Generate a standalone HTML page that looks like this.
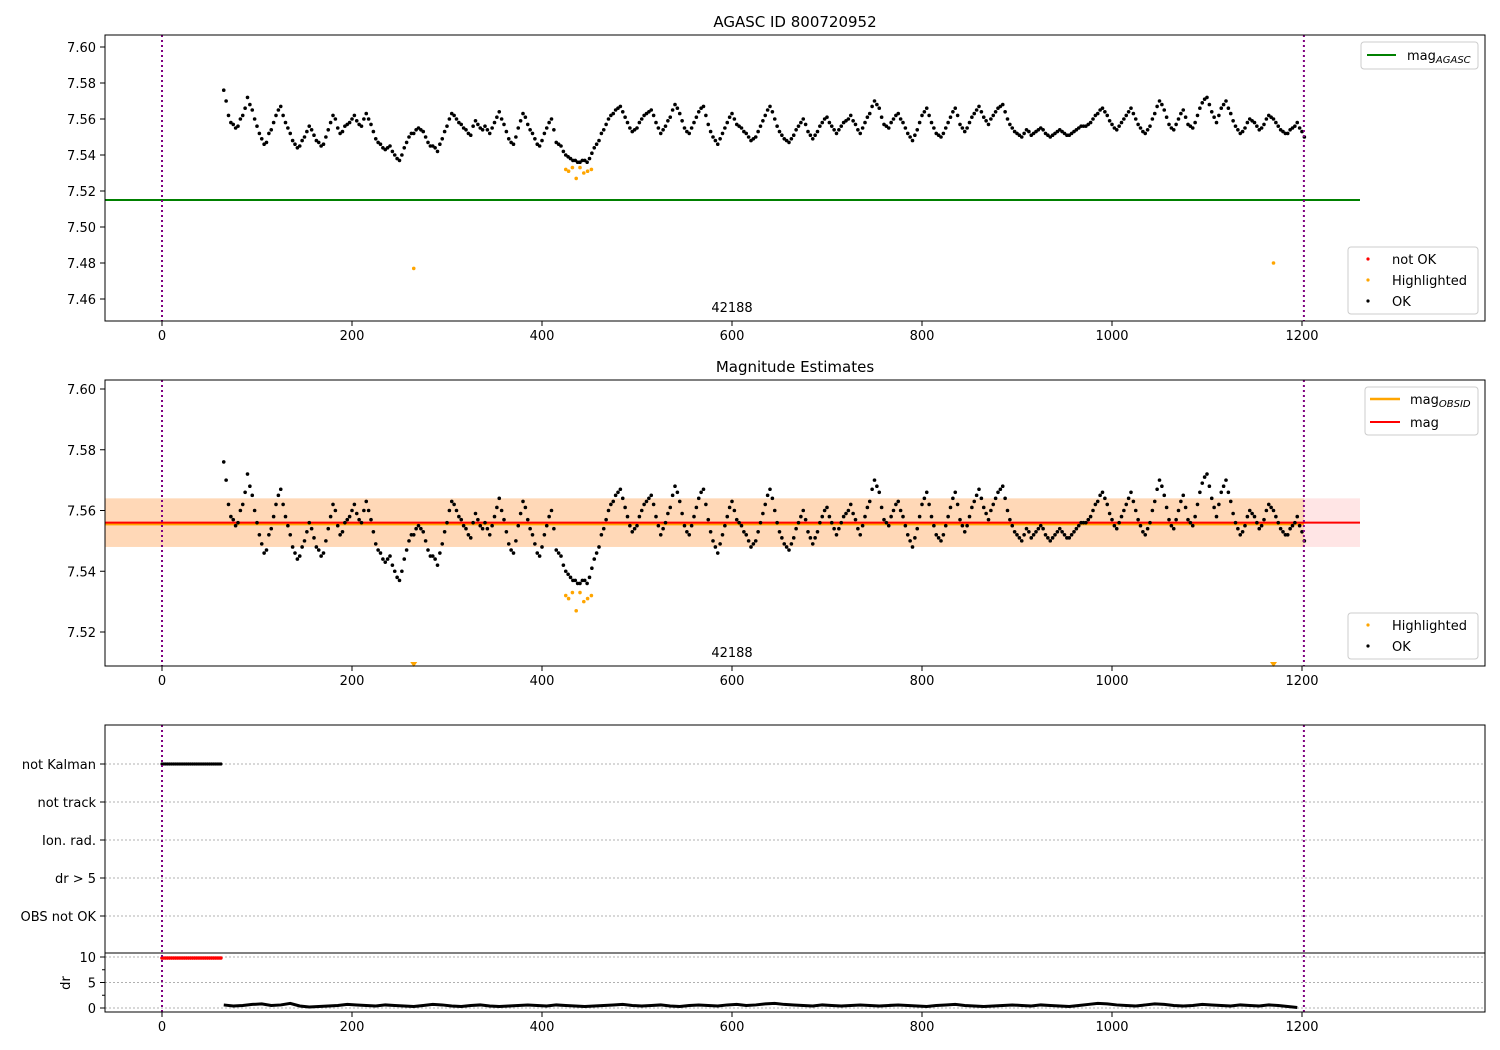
<!DOCTYPE html>
<html><head><meta charset="utf-8"><style>
html,body{margin:0;padding:0;background:#fff;}
svg{display:block;font-family:"DejaVu Sans","Liberation Sans",sans-serif;}
</style></head><body>
<svg id="c" width="1500" height="1050" viewBox="0 0 1500 1050" xmlns="http://www.w3.org/2000/svg"></svg>
<script>
const T0 = 65, TSTEP = 5;
const magMilli = [76,62,57,56,62,72,65,56,49,47, 54,62,67,58,52,46,45,50,56,51, 47,46,54,62,55,53,57,60,59,56,
 63,57,49,46,43,45,40,37,44,50, 52,55,53,47,45,42,49,56,63,60, 57,54,51,59,55,56,52,58,64,57,
 49,46,55,63,57,52,46,48,55,60, 47,45,40,38,37,36,37,38,44,48, 54,60,63,66,64,58,53,55,60,63,
 65,58,52,56,61,68,63,55,52,58, 64,67,57,50,46,52,58,63,57,55, 52,48,50,56,62,67,60,53,49,47,
 51,56,60,53,49,53,58,61,56,52, 56,59,62,57,52,58,63,70,66,57, 55,60,63,58,52,48,54,62,66,58,
 52,50,55,61,66,57,53,58,63,67, 61,57,62,66,68,60,55,52,50,54, 51,53,55,52,50,52,54,52,51,53,
 55,56,57,60,63,66,62,57,54,58, 62,66,60,55,52,56,63,70,65,57, 54,60,65,57,55,62,69,72,64,58,
 66,70,63,56,52,55,60,58,54,57, 62,60,56,53,52,55,58,53];
const T0B = 67.5;
const magMilliB = [70,58,55,60,66,68,60,52,46,52, 58,65,62,55,48,44,48,53,54,48, 45,50,58,60,52,56,58,62,57,60,
 60,53,47,44,44,42,38,40,47,52, 54,54,50,45,44,46,53,60,62,58, 55,52,56,57,54,54,55,61,60,53,
 47,50,59,61,54,49,45,52,58,54, 46,42,39,37,36,37,36,41,46,52, 57,62,65,67,61,55,54,58,62,64,
 62,55,54,59,65,66,59,53,55,61, 66,62,53,48,49,55,61,60,56,53, 50,49,53,59,65,64,56,51,48,49,
 54,58,57,51,51,56,60,58,54,54, 58,60,59,54,55,61,67,68,61,56, 58,62,60,55,50,51,58,64,62,55,
 51,52,58,64,62,55,55,61,65,64, 59,60,64,67,64,57,53,51,52,53, 52,54,54,51,51,53,53,51,52,54,
 56,56,58,62,65,64,59,55,56,60, 64,63,57,53,54,60,67,68,61,55, 57,63,61,56,58,66,71,68,61,62,
 68,66,59,54,53,58,59,56,55,60, 61,58,54,52,54,56,55,50];
const hiT = [425,428,432,436,440,444,448,452,265,1170];
const hiMag = [7.532,7.531,7.533,7.527,7.533,7.530,7.531,7.532,7.477,7.480];
const notKalmanT = [0,2,4,6,8,10,12,14,16,18,20,22,24,26,28,30,32,34,36,38,40,42,44,46,48,50,52,54,56,58,60,62];
const drNotOk = [9.8,9.8,9.8,9.8,9.8,9.8,9.8,9.8,9.8,9.8,9.8,9.8,9.8,9.8,9.8,9.8,9.8,9.8,9.8,9.8,9.8,9.8,9.8,9.8,9.8,9.8,9.8,9.8,9.8,9.8,9.8,9.8];
const DR0 = 65, DRSTEP = 10;
const drVals = [0.6,0.4,0.5,0.7,0.8,0.5,0.6,0.9,0.4,0.2, 0.3,0.4,0.5,0.7,0.6,0.5,0.4,0.6,0.5,0.4,
 0.3,0.5,0.7,0.6,0.4,0.3,0.5,0.6,0.4,0.3, 0.4,0.5,0.6,0.5,0.4,0.6,0.5,0.4,0.3,0.4, 0.5,0.6,0.7,0.5,0.4,0.5,0.6,0.4,0.3,0.5,
 0.6,0.5,0.4,0.6,0.7,0.5,0.6,0.8,0.9,0.7, 0.6,0.5,0.4,0.6,0.5,0.4,0.5,0.6,0.5,0.4, 0.5,0.6,0.5,0.4,0.3,0.5,0.6,0.7,0.5,0.4,
 0.3,0.4,0.5,0.6,0.5,0.4,0.6,0.5,0.4,0.3, 0.5,0.7,0.9,0.8,0.6,0.5,0.4,0.6,0.8,0.7,
 0.5,0.4,0.5,0.7,0.6,0.5,0.4,0.6,0.5,0.4,0.6,0.5,0.3,0.1];
const catLabels = ["not Kalman","not track","Ion. rad.","dr > 5","OBS not OK"];
const magTicks = [7.46,7.48,7.50,7.52,7.54,7.56,7.58,7.60];
const magTicks2 = [7.52,7.54,7.56,7.58,7.60];
const xTicks = [0,200,400,600,800,1000,1200];
const drTicks = [0,5,10];
const MAG_AGASC = 7.515, MAG_OBSID = 7.5555, MAG = 7.556, MAG_LO = 7.548, MAG_HI = 7.564;

const NS = "http://www.w3.org/2000/svg";
const svg = document.getElementById('c');
function el(tag, attrs, parent, txt){
  const e = document.createElementNS(NS, tag);
  for (const k in attrs) e.setAttribute(k, attrs[k]);
  if (txt !== undefined) e.textContent = txt;
  (parent || svg).appendChild(e);
  return e;
}
const L = 105, R = 1485;
const xs = t => 162 + (t) * (1140/1200);
const y1 = m => 47 + (7.60 - m) * 1800;
const y2 = m => 389 + (7.60 - m) * 3037.5;
const yCat = i => 764 + i * 38;
const yDr = d => 1008 - d * 5.1;

function axesFrame(top, bot, name){
  const r = el('rect',{x:L,y:top,width:R-L,height:bot-top,fill:'none',stroke:'#000','stroke-width':1});
  
  
}
function xAxis(bot, name){
  const g = el('g',{});
  
  
  xTicks.forEach(t=>{
    el('line',{x1:xs(t),x2:xs(t),y1:bot,y2:bot+5,stroke:'#000'},g);
    const tx = el('text',{x:xs(t),y:bot+19,'font-size':13,'text-anchor':'middle'},g,String(t));
    
    
  });
}
function yAxis(ticks, yf, name, fmt){
  const g = el('g',{});
  
  
  ticks.forEach(v=>{
    el('line',{x1:L-5,x2:L,y1:yf(v),y2:yf(v),stroke:'#000'},g);
    const tx = el('text',{x:L-9,y:yf(v)+5,'font-size':13,'text-anchor':'end'},g,fmt(v));
    
    
  });
}
function vlines(top, bot){
  [0,1202].forEach(t=>{
    const l = el('line',{x1:xs(t),x2:xs(t),y1:top,y2:bot,stroke:'#800080','stroke-width':2,'stroke-dasharray':'2,3'});
    
    
  });
}
function dots(ts, vs, yf, color, r, name, clipBot){
  const g = el('g',{fill:color});
  
  
  ts.forEach((t,i)=>{
    const y = yf(vs[i]);
    if (clipBot !== undefined && y > clipBot){
      el('path',{d:`M${xs(t)-3.5},${clipBot-4} L${xs(t)+3.5},${clipBot-4} L${xs(t)},${clipBot+1} Z`},g);
      return;
    }
    el('circle',{cx:xs(t),cy:y,r:r},g);
  });
}
const magT = magMilli.map((v,i)=>T0 + i*TSTEP).concat(magMilliB.map((v,i)=>T0B + i*TSTEP));
const magV = magMilli.concat(magMilliB).map(v=>7.5 + v/1000);

// ---------- Panel 1 ----------
el('text',{x:795,y:27,'font-size':15,'text-anchor':'middle',},svg,'AGASC ID 800720952');
const gl = el('line',{x1:L,x2:1360,y1:y1(MAG_AGASC),y2:y1(MAG_AGASC),stroke:'#008000','stroke-width':2});
 
dots(magT, magV, y1, '#000', 1.8, 'ok-points-1');
dots(hiT, hiMag, y1, 'orange', 1.8, 'highlighted-points-1');
vlines(35,321);
el('text',{x:732,y:312,'font-size':13,'text-anchor':'middle',},svg,'42188');
axesFrame(35,321,'axes-1'); xAxis(321,'x-axis-1'); yAxis(magTicks, y1, 'y-axis-1', v=>v.toFixed(2));
let lg = el('g',{});  
el('rect',{x:1361,y:42,width:117,height:27,rx:3,fill:'#fff',stroke:'#ccc'},lg);
el('line',{x1:1367,x2:1396,y1:55,y2:55,stroke:'#008000','stroke-width':2},lg);
const t1 = el('text',{x:1407,y:60,'font-size':13},lg,'mag'); el('tspan',{'font-size':10,'font-style':'italic',dy:3},t1,'AGASC');
lg = el('g',{});  
el('rect',{x:1348,y:247,width:130,height:67,rx:3,fill:'#fff',stroke:'#ccc'},lg);
[['red','not OK',259],['orange','Highlighted',280],['#000','OK',301]].forEach(([c,s,y])=>{
  el('circle',{cx:1368,cy:y,r:1.6,fill:c},lg); el('text',{x:1392,y:y+5,'font-size':13},lg,s);
});

// ---------- Panel 2 ----------
el('text',{x:795,y:372,'font-size':15,'text-anchor':'middle',},svg,'Magnitude Estimates');
let b = el('rect',{x:L,y:y2(MAG_HI),width:1360-L,height:y2(MAG_LO)-y2(MAG_HI),fill:'red','fill-opacity':0.1});
 
b = el('rect',{x:L,y:y2(MAG_HI),width:xs(1202)-L,height:y2(MAG_LO)-y2(MAG_HI),fill:'orange','fill-opacity':0.2});
 
let ml = el('line',{x1:L,x2:xs(1202),y1:y2(MAG_OBSID),y2:y2(MAG_OBSID),stroke:'orange','stroke-width':2.5});
 
ml = el('line',{x1:L,x2:1360,y1:y2(MAG),y2:y2(MAG),stroke:'red','stroke-width':2});
 
dots(magT, magV, y2, '#000', 1.8, 'ok-points-2');
dots(hiT, hiMag, y2, 'orange', 1.8, 'highlighted-points-2', 666);
vlines(380,666);
el('text',{x:732,y:657,'font-size':13,'text-anchor':'middle',},svg,'42188');
axesFrame(380,666,'axes-2'); xAxis(666,'x-axis-2'); yAxis(magTicks2, y2, 'y-axis-2', v=>v.toFixed(2));
lg = el('g',{});  
el('rect',{x:1365,y:387,width:113,height:48,rx:3,fill:'#fff',stroke:'#ccc'},lg);
el('line',{x1:1370,x2:1400,y1:399,y2:399,stroke:'orange','stroke-width':2.5},lg);
const t2 = el('text',{x:1410,y:404,'font-size':13},lg,'mag'); el('tspan',{'font-size':10,'font-style':'italic',dy:3},t2,'OBSID');
el('line',{x1:1370,x2:1400,y1:422,y2:422,stroke:'red','stroke-width':2},lg);
el('text',{x:1410,y:427,'font-size':13},lg,'mag');
lg = el('g',{});  
el('rect',{x:1348,y:613,width:130,height:46,rx:3,fill:'#fff',stroke:'#ccc'},lg);
[['orange','Highlighted',625],['#000','OK',646]].forEach(([c,s,y])=>{
  el('circle',{cx:1368,cy:y,r:1.6,fill:c},lg); el('text',{x:1392,y:y+5,'font-size':13},lg,s);
});

// ---------- Panel 3 ----------
catLabels.forEach((s,i)=>{
  el('line',{x1:L,x2:R,y1:yCat(i),y2:yCat(i),stroke:'#b0b0b0','stroke-dasharray':'2,2'});
  el('line',{x1:L-5,x2:L,y1:yCat(i),y2:yCat(i),stroke:'#000'});
  const tx = el('text',{x:L-9,y:yCat(i)+5,'font-size':13,'text-anchor':'end'},svg,s);
   
});
dots(notKalmanT, notKalmanT.map(()=>0), t=>yCat(0), '#000', 1.6, 'not-kalman-points');
drTicks.forEach(v=>{
  el('line',{x1:L,x2:R,y1:yDr(v),y2:yDr(v),stroke:'#b0b0b0','stroke-dasharray':'2,2'});
});
[2.5,7.5].forEach(v=>el('line',{x1:L-3,x2:L,y1:yDr(v),y2:yDr(v),stroke:'#000'}));
yAxis(drTicks, yDr, 'dr-axis', v=>String(v));
el('text',{x:70,y:983,'font-size':13,'text-anchor':'middle',transform:'rotate(-90 70 983)',},svg,'dr');
dots(notKalmanT, drNotOk, yDr, 'red', 1.8, 'dr-not-ok-points');
const drT = drVals.map((v,i)=>DR0 + i*DRSTEP);
const pl = el('polyline',{points:drT.map((t,i)=>xs(t)+','+yDr(drVals[i])).join(' '),fill:'none',stroke:'#000','stroke-width':3});
 
vlines(725,1012);
axesFrame(725,1012,'axes-3');
el('line',{x1:L,x2:R,y1:953,y2:953,stroke:'#000'});
xAxis(1012,'x-axis-3');
</script>
</body></html>
